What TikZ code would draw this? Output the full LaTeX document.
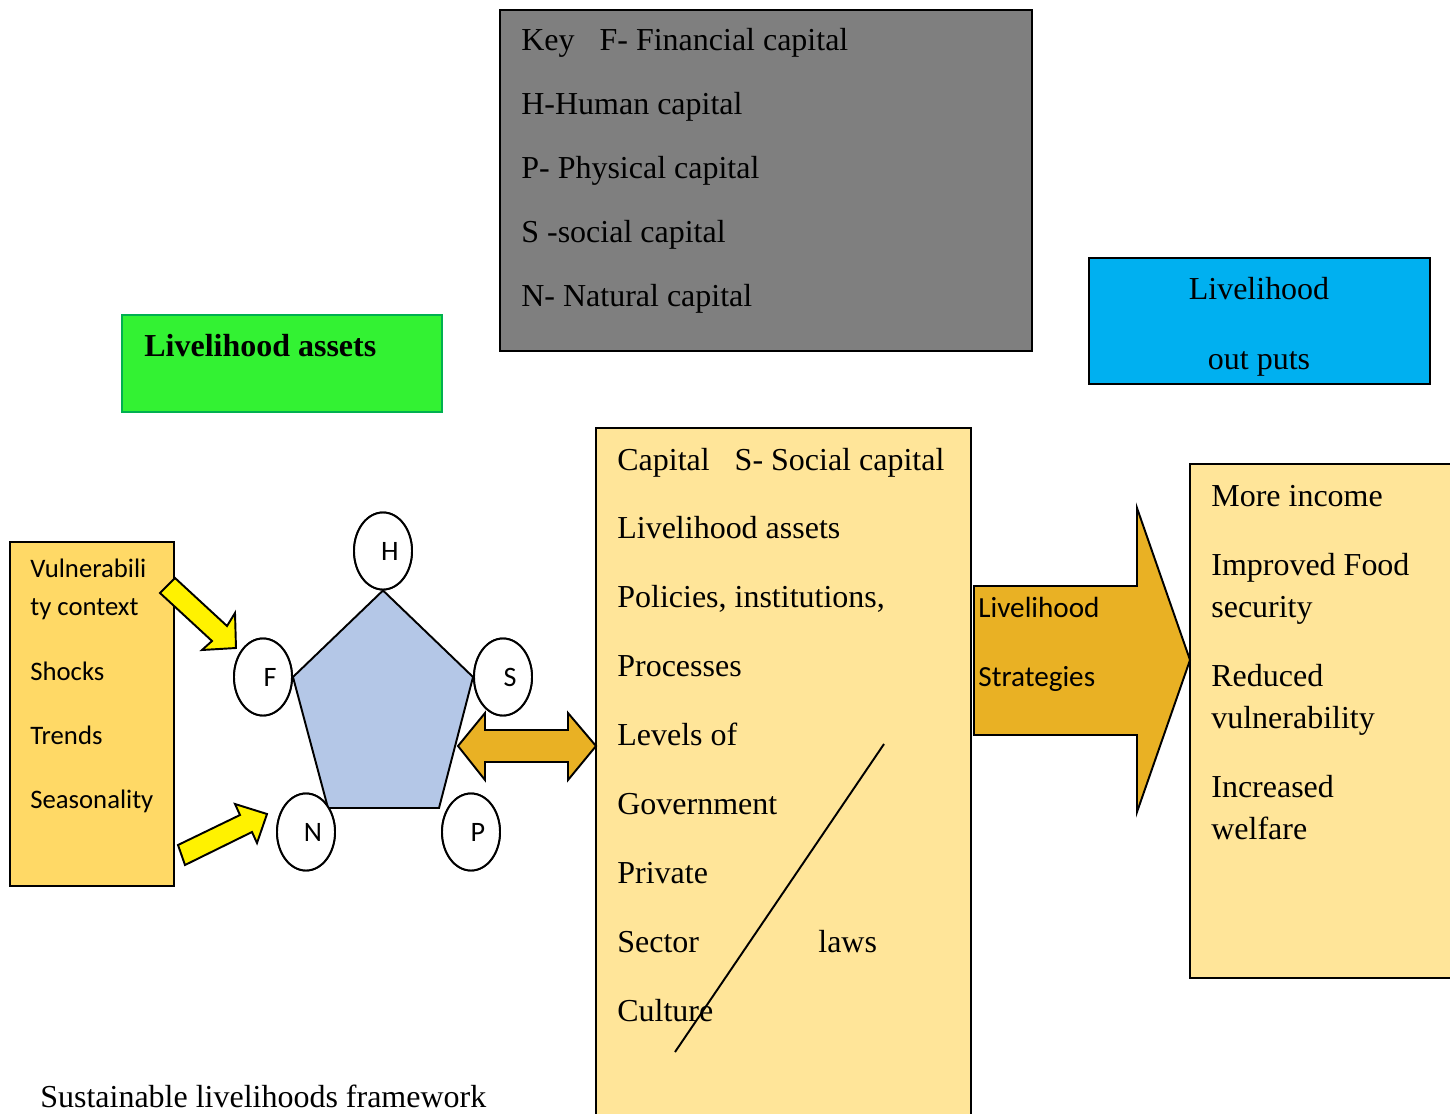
\documentclass[tikz,border=0pt]{standalone}
\usepackage{fontspec}
\setmainfont{Liberation Serif}
\newfontfamily\calibri{Carlito}
\usetikzlibrary{positioning,shapes.geometric}

\definecolor{keygray}{HTML}{7F7F7F}
\definecolor{outblue}{HTML}{00B0F0}
\definecolor{assetgreen}{HTML}{33F233}
\definecolor{assetline}{HTML}{00B050}
\definecolor{capyellow}{HTML}{FFE599}
\definecolor{vulnyellow}{HTML}{FFD966}
\definecolor{pentblue}{HTML}{B4C7E7}
\definecolor{stratgold}{HTML}{E9B124}

\begin{document}
\begin{tikzpicture}[
	x=0.2mm, y=-0.2mm,
	box/.style = {
		draw, rectangle, line width=1.1pt, anchor=north west,
		inner sep=0pt, outer sep=0pt},
	rmtext/.style = {
		anchor=base west, inner sep=0pt,
		font=\fontsize{18.2}{22}\selectfont},
	sftext/.style = {
		anchor=base west, inner sep=0pt,
		font=\calibri\fontsize{15.2}{18}\selectfont},
	asset/.style = {
		draw, ellipse, fill=white, line width=1.1pt,
		minimum width=11.6mm, minimum height=15.4mm, inner sep=0pt,
		font=\calibri\fontsize{16}{18}\selectfont},
	blockarrow/.style = {draw, line width=1.1pt, line join=miter}
]
\useasboundingbox (0,0) rectangle (1450,1113);

% boxes
\node (key)  [box, fill=keygray, minimum width=106.4mm, minimum height=68.2mm] at (500,10) {};
\node (outs) [box, fill=outblue, minimum width=68.2mm, minimum height=25.2mm] at (1089,258) {};
\node (assets) [box, draw=assetline, fill=assetgreen, minimum width=64mm, minimum height=19.4mm] at (122,315) {};
\node (cap)  [box, fill=capyellow, minimum width=75mm, minimum height=141mm] at (596,428) {};
\node (res)  [box, fill=capyellow, minimum width=54mm, minimum height=102.8mm] at (1190,464) {};
\node (vuln) [box, fill=vulnyellow, minimum width=32.8mm, minimum height=68.8mm] at (10,542) {};

% key
\foreach \txt [count=\i from 0] in {Key\hspace{5mm}F- Financial capital, H-Human capital,
		P- Physical capital, S -social capital, N- Natural capital}
	\node (key-\i) [rmtext] at (521,51+63.75*\i) {\txt};

\node (outs-a) [rmtext, anchor=base] at (1259,299) {Livelihood};
\node (outs-b) [rmtext, anchor=base] at (1259,369) {out puts};
\node (assets-t) [rmtext] at (144,356) {\bfseries Livelihood assets};

% policies, institutions and processes
\foreach \txt [count=\i from 0] in {Capital\hspace{5mm}S- Social capital, Livelihood assets,
		{Policies, institutions,}, Processes, Levels of, Government, Private, Sector, Culture}
	\node (cap-\i) [rmtext] at (617,470+68.9*\i) {\txt};
\node (laws) [rmtext] at (818,952) {laws};
\draw[line width=1.1pt] (884,744) -- (675,1052);

% outcomes
\foreach \y/\txt [count=\i] in {506/More income, 575/Improved Food, 617/security, 686/Reduced,
		728/vulnerability, 797/Increased, 839/welfare}
	\node (res-\i) [rmtext] at (1211,\y) {\txt};

% vulnerability context
\foreach \y/\txt [count=\i] in {577/Vulnerabili, 615/ty context, 680/Shocks, 744/Trends, 808/Seasonality}
	\node (vuln-\i) [sftext] at (30,\y) {\txt};

% asset pentagon
\node (H) [asset] at (383,551) {\hspace{2.8mm}H};
\node (F) [asset] at (263,677) {\hspace{2.8mm}F};
\node (S) [asset] at (503,677) {\hspace{2.8mm}S};
\node (N) [asset] at (306,832) {\hspace{2.8mm}N};
\node (P) [asset] at (471,832) {\hspace{2.8mm}P};
\draw[line width=1.1pt, fill=pentblue, line join=miter]
	(H.south) -- (S.west) -- (439,808) -- (328,808) -- (F.east) -- cycle;
\foreach \n in {H,F,S,N,P}
	\path (\n) node[asset] {\hspace{2.8mm}\n};

% arrows
\draw[blockarrow, fill=yellow] (160,593) -- (175,578) -- (227,626) -- (235,613)
	-- (236,648) -- (202,650) -- (212,641) -- cycle;
\draw[blockarrow, fill=yellow] (185,865) -- (178,845) -- (240,815) -- (235,804)
	-- (267,814) -- (257,843) -- (252,832) -- cycle;
\draw[blockarrow, fill=stratgold] (458,746) -- (485,713) -- (485,730) -- (568,730)
	-- (568,713) -- (596,746) -- (568,780) -- (568,762) -- (485,762) -- (485,780) -- cycle;
\draw[blockarrow, fill=stratgold] (974,586) -- (1137,586) -- (1137,508) -- (1190,660)
	-- (1137,812) -- (1137,735) -- (974,735) -- cycle;
\node (strat-a) [sftext, font=\calibri\fontsize{16.6}{18}\selectfont] at (978,617) {Livelihood};
\node (strat-b) [sftext, font=\calibri\fontsize{16.6}{18}\selectfont] at (978,686) {Strategies};

\node (caption) [rmtext] at (40,1107) {Sustainable livelihoods framework};
\end{tikzpicture}
\end{document}
